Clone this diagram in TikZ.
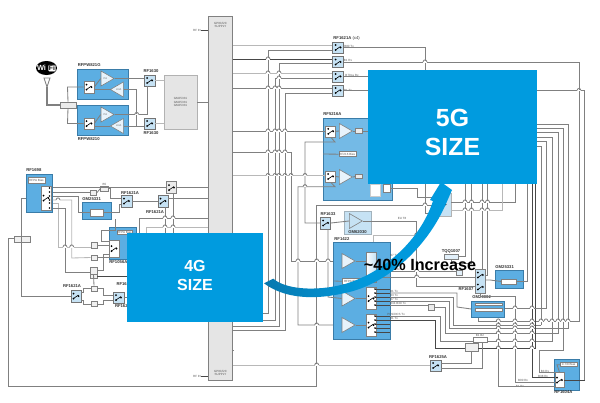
\documentclass[tikz,border=0pt]{standalone}
\usepackage{fontspec}
\setmainfont{Liberation Sans}
\usetikzlibrary{shapes.geometric}
\definecolor{sizeblue}{HTML}{009BDF}
\definecolor{swooshdark}{HTML}{0878AE}
\definecolor{blockblue}{HTML}{5CAEE2}
\definecolor{paleblue}{HTML}{C6E2F4}
\definecolor{blockedge}{HTML}{3A7CA8}
\tikzset{
  wh/.style 2 args={minimum width=#1*0.5pt,minimum height=#2*0.5pt,inner sep=0pt},
  wire/.style={draw=black!50,line width=.42pt},
  lightwire/.style={draw=black!28,line width=.42pt},
  darkwire/.style={draw=black!72,line width=.45pt},
  blockbox/.style={draw=blockedge,fill=blockblue,line width=.5pt},
  switchbox/.style={draw=black!55,fill=paleblue,line width=.3pt,wh={10.5}{11}},
  whitebox/.style={draw=black!50,fill=white,line width=.3pt},
  amp/.style={isosceles triangle,isosceles triangle stretches,draw=black!50,fill=paleblue!40,line width=.3pt,
    minimum width=7.5pt,minimum height=6.5pt,inner sep=0pt,anchor=lower side,font=\fontsize{1.3}{1.5}\selectfont,text=black!60},
  partlabel/.style={font=\bfseries\fontsize{2.1}{2.5}\selectfont,text=black!80,inner sep=0pt},
  tinylabel/.style={font=\fontsize{1.5}{1.8}\selectfont,text=black!65,inner sep=0pt,align=center},
  swmark/.pic={
    \draw[line width=.3pt,black] (-2.5,2.5) -- (2.5,-1);
    \fill (-2.5,-2.5) circle (1); \fill (-2.5,2.5) circle (1); \fill (2.5,0) circle (1);
  }
}
\newcommand{\hopat}[2]{
  \draw[white,line width=.6pt] (#1-1.8,#2) -- (#1+1.8,#2);
  \draw[wire] (#1-2,#2) .. controls (#1-1.5,#2-2.8) and (#1+1.5,#2-2.8) .. (#1+2,#2);
}
\begin{document}
\begin{tikzpicture}[x=0.5pt,y=-0.5pt]
\useasboundingbox (0,0) rectangle (600,402);
\fill[white] (0,0) rectangle (600,402);
% the bus
\node (bus) at (220.5,198) [draw=black!50,fill=black!10,line width=.45pt,wh={24}{364}] {};
\node (bustop) at (220.5,25) [tinylabel] {GPIO/I2C\\SUPPLY};
\node (busbot) at (220.5,373) [tinylabel] {GPIO/I2C\\SUPPLY};
\node (rfin) at (197,30) [tinylabel] {RF IN};
\node (rfout) at (197,376) [tinylabel] {RF IN};
\draw[darkwire] (rfin.east) -- (bus.west |- rfin);
\draw[darkwire] (rfout.east) -- (bus.west |- rfout);
% wifi part
\node (wifi) at (46.5,68) [ellipse,fill=black,wh={21}{14}] {};
\node (wifiwi) at (41.5,68.2) [font=\bfseries\fontsize{3.7}{4}\selectfont,text=white,inner sep=0pt] {Wi};
\node (wififi) at (52,68.2) [fill=white,draw=black!40,rounded corners=.5pt,line width=.2pt,font=\bfseries\fontsize{3.4}{3.8}\selectfont,inner sep=.3pt] {Fi};
\coordinate (ant) at (47,87);
\draw[wire] (44,78) -- (50,78) -- (ant) -- cycle;
\node (dipl) at (68,105) [whitebox,fill=black!8,wh={16}{6}] {};
\node (wlana) at (103,84) [blockbox,wh={51}{30}] {};
\node (wlanb) at (103,120.5) [blockbox,wh={51}{30}] {};
\node (swa) at (89,87) [whitebox,wh={10}{12}] {};
\node (swb) at (89,123.5) [whitebox,wh={10}{11}] {};
\node (ampa) at (100.7,78.5) [amp] {PA};
\node (ampb) at (123.7,89.5) [amp,shape border rotate=180] {LNA};
\node (ampc) at (100.7,114.5) [amp] {PA};
\node (ampd) at (123.7,126) [amp,shape border rotate=180] {LNA};
\node (rfa) at (149.7,80.5) [switchbox] {};
\node (rfb) at (149.7,123.5) [switchbox] {};
\node (gbox) at (180.5,102) [draw=black!30,fill=black!10,line width=.45pt,wh={33}{54}] {};
\node (gboxtext) at (180.5,102) [tinylabel] {GM25331\\GM25331\\GM25331};
\node (wlanatext) at (77.5,65) [partlabel,anchor=west] {RFPW821G};
\node (wlanbtext) at (77.5,139) [partlabel,anchor=west] {RFPW8210};
\node (rfatext) at (151,71.5) [partlabel] {RF1630};
\node (rfbtext) at (151,133) [partlabel] {RF1630};
\draw[wire,line width=.6pt] (ant) -- (47,105) -- (dipl.west);
\draw[wire] (dipl.north) -- (67.5,87) -- (swa.west);
\draw[wire] (dipl.south) -- (67.5,123.5) -- (swb.west);
\draw[wire] (swa.east) -- (ampa.lower side);
\draw[wire] (ampb.apex) -- (swa.east |- ampb.apex);
\draw[wire] (ampa.apex) -- (rfa.west |- ampa.apex);
\draw[wire] (ampb.lower side) -- (136.7,89.5) -- (136.7,126) -- (rfb.west |- ampd.lower side);
\draw[wire] (ampc.apex) -- (147.3,114.5) -- (147.3,86);
\draw[wire] (ampd.lower side) -- (rfb.west |- ampd.lower side);
\draw[wire] (swb.east) -- (ampc.lower side);
\draw[wire] (ampd.apex) -- (swb.east |- ampd.apex);
\hopat{136.7}{114.5}
\draw[lightwire] (rfa.east) -- (gbox.west |- rfa.east);
\draw[lightwire] (rfb.east) -- (gbox.west |- rfb.east);
\draw[wire] (gbox.east) -- (bus.west |- gbox.east);
% the four switches on top
\node (rfout1) at (338,47.5) [switchbox] {};
\node (rfout2) at (338,62) [switchbox] {};
\node (rfout3) at (338,76.5) [switchbox] {};
\node (rfout4) at (338,90.5) [switchbox] {};
\node (rfouttext) at (333,38) [partlabel,anchor=west] {RF1621A {\mdseries (x4)}};
\node (rxa) at (349,46) [tinylabel] {B80 Tx};
\node (rxb) at (348,60) [tinylabel] {B1 Rx};
\node (rxc) at (352,75) [tinylabel] {B70ca Rx};
\node (rxd) at (348,90) [tinylabel] {B1 Tx};
% RF5216A
\node (pab) at (357.5,159) [blockbox,fill=blockblue!85,wh={69}{82}] {};
\node (pabtext) at (323,114.5) [partlabel,anchor=west] {RF5216A};
\node (pabsw1) at (330.7,131.3) [whitebox,wh={10}{11}] {};
\node (pabsw2) at (330.7,176.5) [whitebox,wh={10}{11}] {};
\node (pabamp1) at (339,131) [amp] {};
\node (pabamp2) at (339,177) [amp] {};
\node (pabf1) at (359,131) [whitebox,fill=black!8,wh={7}{4.5}] {};
\node (pabf2) at (359,176.5) [whitebox,fill=black!8,wh={7}{4.5}] {};
\node (pabbias) at (347.3,154.2) [whitebox,wh={17}{5},tinylabel] {RF216 Bias};
\node (pabw) at (375,190) [whitebox,draw=black!20,fill=white,wh={10}{12}] {};
\node (pabf3) at (386.5,188) [whitebox,wh={7}{8}] {};
% bus lines to the right
\draw[lightwire] (bus.east |- 0,45) -- (rfout1.west |- 0,45);
\draw[darkwire] (bus.east |- 0,59) -- (rfout2.west |- 0,59);
\draw[lightwire] (bus.east |- 0,73) -- (rfout3.west |- 0,73);
\draw[wire] (bus.east |- 0,88) -- (rfout4.west |- 0,88);
\draw[wire] (rfout1.west |- 0,50) -- (268,50) -- (268,313) -- (bus.east |- 0,313);
\draw[wire] (rfout2.west |- 0,63.5) -- (279,63.5) -- (279,326) -- (bus.east |- 0,326);
\draw[wire] (rfout3.west |- 0,78) -- (275,78) -- (275,320) -- (bus.east |- 0,320);
\draw[wire] (rfout4.west |- 0,93) -- (285,93) -- (285,330.5) -- (bus.east |- 0,330.5);
\draw[wire] (bus.east |- 0,131) -- (pabsw1.west |- 0,131);
\draw[wire] (bus.east |- 0,152) -- (291,152) -- (291,261) -- (345,261);
\draw[lightwire] (bus.east |- 0,175.5) -- (pabsw2.west |- 0,175.5);
\draw[wire] (pabsw1.south) -- (335,142) -- (305,142) -- (305,223) -- (320,223);
\draw[wire] (pabsw2.south) -- (335,186.7) -- (298,186.7) -- (298,325) -- (345,325);
\draw[wire] (323,154) -- (pabbias.west);
\draw[wire] (pabsw1.east) -- (pabamp1.lower side);
\draw[wire] (pabsw2.east) -- (pabamp2.lower side);
\draw[wire] (pabamp1.apex) -- (pabf1.west);
\draw[wire] (pabamp2.apex) -- (pabf2.west);
\draw[wire] (pabf1.east) -- (368,131);
\draw[wire] (rfout1.east) -- (425,47.5) -- (425,213) -- (436,213);
\draw[wire] (rfout2.east) -- (579,62) -- (579,321) -- (478,321) -- (478,317);
\draw[wire] (rfout3.east) -- (368,76.5);
\draw[wire] (rfout4.east) -- (584.7,90.5) -- (584.7,380) -- (579.3,380);
\hopat{425}{62}
\hopat{579}{90.5}
\foreach \y in {59,73,88,131,152,175.5} { \hopat{268}{\y} }
\foreach \y in {73,78,88,131,152,175.5} { \hopat{279}{\y} }
\foreach \y in {88,131,152,175.5} { \hopat{275}{\y} }
\foreach \y in {131,152,175.5} { \hopat{285}{\y} }
\hopat{291}{175.5}
\hopat{305}{175.5}
\hopat{305}{186.7}
% RF1633 and RF1422
\node (sel) at (325.7,223) [switchbox,wh={10}{12}] {};
\node (seltext) at (328,214) [partlabel] {RF1633};
\node (gmd) at (357.3,222.3) [draw=paleblue!70!black!80,fill=paleblue,line width=.3pt,wh={27}{23}] {};
\node (gmdamp) at (349,221) [amp,fill=paleblue] {};
\node (gmdtext) at (357.5,231.7) [partlabel] {GM62030};
\node (eulabel) at (402,218) [tinylabel] {EU T8};
\node (hub) at (361.5,290.5) [blockbox,wh={57}{97}] {};
\node (hubtext) at (334,239.5) [partlabel,anchor=west] {RF1422};
\node (hubamp1) at (341.7,261) [amp] {};
\node (hubamp2) at (341.7,298.5) [amp] {};
\node (hubamp3) at (341.7,325) [amp] {};
\node (hubsw1) at (371,267.7) [whitebox,left color=white,right color=paleblue,wh={10}{30}] {};
\node (hubsw2) at (371,298.5) [whitebox,wh={10}{21.5}] {};
\node (hubsw3) at (371,325) [whitebox,wh={10}{22}] {};
\node (hubbias) at (351.3,281.3) [whitebox,wh={18.5}{6},tinylabel] {RFPA Bias};
\draw[wire] (sel.east) -- (gmdamp.lower side);
\draw[wire] (gmdamp.apex) -- (416.7,221) -- (416.7,286) -- (475,286);
\draw[wire] (sel.south) ++(2.3,0) -- (328,297) -- (hubamp2.lower side);
\draw[lightwire] (373,242.3) -- (373,235) -- (416.7,235);
\draw[wire] (hubamp1.apex) -- (hubsw1.west |- hubamp1.apex);
\draw[wire] (hubamp2.apex) -- (hubsw2.west |- hubamp2.apex);
\draw[wire] (hubamp3.apex) -- (hubsw3.west |- hubamp3.apex);
\draw[wire] (334,281) -- (hubbias.west);
\foreach \y in {289,293,297,301,305,316,320,324,328,332} {
  \draw[darkwire] (375,\y) -- (390,\y);
  \fill (375,\y) circle (.9);
}
\node (lbla) at (394,255) [tinylabel] {B7 Tx};
\node (lblb) at (394,260) [tinylabel] {B7 Rx};
\node (lblc) at (395,269.5) [tinylabel] {B40 Rx};
\node (lbld) at (394,291) [tinylabel] {B1 Tx};
\node (lble) at (394,295.3) [tinylabel] {B3 Tx};
\node (lblf) at (394,299.7) [tinylabel] {B7 Tx};
\node (lblg) at (398,303.5) [tinylabel] {B34 B39 Tx};
\node (lblh) at (396,314.3) [tinylabel] {PCS/DCS Tx};
\node (lbli) at (394,318.6) [tinylabel] {B1 Tx};
% the long lines
\draw[wire] (14,238.7) -- (8,238.7) -- (8,386) -- (316.7,386) -- (316.7,205) -- (435,205);
\node (coup) at (22,239) [whitebox,fill=black!6,wh={16}{6}] {};
\node (rftune) at (435.7,365.5) [switchbox] {};
\node (rftunetext) at (438,357) [partlabel] {RF1625A};
\draw[lightwire] (bus.east |- 0,365) -- (rftune.west |- 0,365);
\draw[wire] (bus.east |- 0,350) -- (233,350);
\foreach \y in {261,325,365} { \hopat{316.7}{\y} }
\hopat{298}{261}
\hopat{328}{261}
% the right part
\node (sel2) at (443,204.3) [draw=black!30,fill=paleblue,line width=.3pt,wh={16}{23}] {};
\node (tqq) at (451,256.5) [whitebox,fill=paleblue!50,wh={14}{5.3}] {};
\node (tqqtext) at (451,251) [partlabel] {TQQ1007};
\node (tqqb) at (459.3,273) [whitebox,fill=paleblue!50,wh={5.5}{4.5}] {};
\node (rfsw) at (480.3,281) [draw=black!50,fill=paleblue,line width=.3pt,wh={10.7}{23.7}] {};
\node (rfswtext) at (466,289) [partlabel] {RF1607};
\node (gma) at (509,279) [blockbox,wh={28}{18}] {};
\node (gmatext) at (495,267) [partlabel,anchor=west] {GM25331};
\node (gmasub) at (509,281.5) [whitebox,wh={15}{5}] {};
\node (gmb) at (488.3,309) [blockbox,wh={33.3}{16}] {};
\node (gmbtext) at (472,297.5) [partlabel,anchor=west] {GM20002};
\node (gmbsub) at (488.7,309.8) [whitebox,wh={27.3}{3.8}] {};
\node (gmbtop) at (488.7,304.5) [whitebox,wh={27}{2.5}] {};
\node (fca) at (431,307) [whitebox,fill=black!8,wh={6}{6}] {};
\node (fcb) at (480,339.8) [whitebox,wh={14}{5.7}] {};
\node (fcbtext) at (480,335) [tinylabel] {B1 B2};
\node (fcc) at (471.5,347) [whitebox,fill=black!6,wh={13}{7.7}] {};
\node (blk) at (566.7,374.7) [blockbox,wh={25.3}{30.7}] {};
\node (blktext) at (554,392.5) [partlabel,anchor=west] {RF1604A};
\node (blkbias) at (568.7,364.7) [whitebox,wh={17.3}{4},tinylabel] {0-7/8 Bias};
\node (blksw) at (559.5,380) [whitebox,wh={9}{14.7}] {};
\node (blkrx1) at (523,380) [tinylabel] {B00 Rx};
\node (blkrx2) at (520,386.5) [tinylabel] {B1 Rx};
\node (blkrx3) at (545,371) [tinylabel] {B3 Rx};
\node (blkrx4) at (543,376) [tinylabel] {B38 Rx};
\draw[wire] (sel2.east |- 0,202) -- (515,202) -- (515,184);
\draw[lightwire] (sel2.east |- 0,210) -- (502,210) -- (502,184);
\draw[wire] (390,188) -- (417,188) -- (417,197) -- (sel2.west |- 0,197);
\draw[wire] (465,184) -- (465,256.5) -- (tqq.east);
\draw[wire] (471.5,184) -- (471.5,263) -- (451,263) -- (tqq.south);
\draw[wire] (482,184) -- (rfsw.north -| 482,0);
\draw[wire] (487.5,184) -- (487.5,275) -- (rfsw.east |- 0,275);
\draw[wire] (hubsw1.east |- 0,271) -- (tqqb.west |- 0,271);
\draw[wire] (hubsw1.east |- 0,277) -- (rfsw.west |- 0,277);
\draw[wire] (rfsw.east |- 0,280) -- (490,280) -- (gmasub.west);
\draw[wire] (gmasub.east) -- (527,281.5) -- (527,184);
\draw[wire] (rfsw.south) -- (480.3,296) -- (515,296) -- (515,382) -- (blksw.west |- 0,382);
\draw[darkwire] (532,184) -- (532,377) -- (blksw.west |- 0,377);
\draw[wire] (498.3,321) -- (498.3,386) -- (blksw.west |- 0,386);
\draw[wire] (390,293) -- (457,293) -- (457,307) -- (gmb.west);
\draw[wire] (390,297) -- (453,297) -- (453,325) -- (541,325);
\draw[wire] (390,301) -- (449,301) -- (449,328) -- (568,328) -- (568,124) -- (537,124);
\draw[wire] (390,305) -- (fca.west |- 0,305);
\draw[wire] (fca.east) -- (445,307) -- (445,333) -- (558,333) -- (558,132.7) -- (537,132.7);
\draw[wire] (390,316) -- (440,316) -- (440,341) -- (fcb.west |- 0,341);
\draw[wire] (fcb.east |- 0,341) -- (552,341) -- (552,137) -- (537,137);
\draw[darkwire] (390,320) -- (435.7,320) -- (435.7,348) -- (fcc.west |- 0,348);
\draw[darkwire] (fcc.east |- 0,348) -- (535,348) -- (535,184);
\draw[wire] (541,325) -- (541,146) -- (537,146);
\draw[wire] (gmb.east |- 0,308) -- (546,308) -- (546,141.7) -- (537,141.7);
\draw[wire] (563,128) -- (537,128);
\draw[wire] (563,128) -- (563,350) -- (539,350) -- (539,372) -- (blksw.west |- 0,372);
\draw[wire] (rftune.east |- 0,363) -- (471.7,363) -- (471.7,350.8);
\draw[wire] (rftune.east |- 0,368) -- (482.7,368) -- (482.7,342.7);
\foreach \x in {465,471.5,482,487.5} { \hopat{\x}{202} \hopat{\x}{210} }
\hopat{425}{205}
\foreach \y in {235,271,277} { \hopat{416.7}{\y} }
\foreach \x in {498.3,515,532} {
  \foreach \y in {321,325,328,333,341,348} { \hopat{\x}{\y} }
}
\foreach \x in {515,532} { \hopat{\x}{308} }
\foreach \x in {541,546,552,558,563,568} { \hopat{\x}{321} }
\draw[darkwire] (blksw.east |- 0,380) -- (584.7,380);
\draw[wire] (blkbias.west) -- (557,364.7) -- (blksw.north);
% left lower part
\node (mod) at (39,193) [blockbox,wh={26}{38}] {};
\node (modtext) at (26,170) [partlabel,anchor=west] {RF1698};
\node (modlab) at (36.5,180.2) [whitebox,wh={17}{6.5},tinylabel] {RFPA Bias};
\node (modsw) at (46,198) [whitebox,wh={10}{24}] {};
\foreach \y in {188,192,196,200,203,208} { \fill (49.5,\y) circle (.9); }
\node (fltb) at (104.5,188.5) [whitebox,fill=black!6,wh={7.6}{5}] {};
\node (fltc) at (93.4,192.5) [whitebox,fill=black!6,wh={6.7}{5}] {};
\node (fltbtext) at (104.5,184) [tinylabel] {B5};
\node (sw4g) at (171.5,187.5) [whitebox,fill=black!8,wh={10}{11.5}] {};
\node (gmc) at (96.5,210.5) [blockbox,wh={29}{17}] {};
\node (gmctext) at (82,199) [partlabel,anchor=west] {GM25331};
\node (gmcsub) at (97,212.7) [whitebox,wh={12.6}{6.7}] {};
\node (swl1) at (126.5,201) [switchbox,wh={11}{12}] {};
\node (swl1text) at (130,193) [partlabel] {RF1621A};
\node (swl2) at (163,201) [switchbox,wh={10}{12}] {};
\node (swl2text) at (155,212) [partlabel] {RF1621A};
\node (lmux) at (122.5,243) [blockbox,wh={27}{32}] {};
\node (lmuxtext) at (109,262) [partlabel,anchor=west] {RF1056A};
\node (lmuxlab) at (124.5,232) [whitebox,wh={15}{4},tinylabel] {RFPA Bias};
\node (lmuxsw) at (114,248.5) [whitebox,wh={10}{17}] {};
\node (flt1) at (94,245) [whitebox,fill=black!6,wh={6}{6}] {};
\node (flt2) at (94,257.5) [whitebox,fill=black!6,wh={6}{5}] {};
\node (flt3) at (93.5,270.5) [whitebox,fill=black!6,wh={7}{7}] {};
\node (flt4) at (93.5,276) [whitebox,fill=black!6,wh={7}{4}] {};
\node (flt5) at (94,288.5) [whitebox,fill=black!6,wh={6}{5}] {};
\node (flt6) at (94,304) [whitebox,fill=black!6,wh={6}{4.5}] {};
\node (swl3) at (76,296) [switchbox,wh={10}{12}] {};
\node (swl3text) at (72,286) [partlabel] {RF1621A};
\node (swl4) at (118.5,297.5) [switchbox,wh={11}{11}] {};
\node (swl4text) at (124,306.5) [partlabel] {RF1621A};
\node (swl4up) at (125.5,284) [partlabel] {RF1621A};
\draw[wire] (mod.east |- 0,187.5) -- (sw4g.west);
\draw[wire] (mod.east |- 0,192.5) -- (fltc.west);
\draw[wire] (fltc.east) -- (fltb.west);
\draw[wire] (fltb.east) -- (110,188.5) -- (110,198) -- (swl1.west |- 0,198);
\draw[wire] (mod.east |- 0,196) -- (78,196) -- (78,212.7) -- (gmcsub.west);
\draw[wire] (gmcsub.east) -- (119,212.7) -- (119,204) -- (swl1.west |- 0,204);
\draw[wire] (swl1.east) -- (swl2.west);
\draw[wire] (swl2.east |- 0,198) -- (bus.west |- 0,198);
\draw[wire] (sw4g.east) -- (bus.west |- sw4g);
\draw[wire] (115,219) -- (115,230) -- (101.7,230) -- (101.7,241.7) -- (lmuxsw.west |- 0,241.7);
\draw[lightwire] (mod.east |- 0,203) -- (58,203) -- (58,247) -- (flt1.west |- 0,247);
\draw[lightwire] (mod.east |- 0,200) -- (71.7,200) -- (71.7,258) -- (flt2.west);
\draw[wire] (mod.east |- 0,208) -- (65,208) -- (65,272) -- (flt3.west |- 0,272);
\hopat{58}{200}
\foreach \x in {65,71.7} { \hopat{\x}{247} }
\draw[wire] (flt1.east) -- (lmuxsw.west |- flt1);
\draw[wire] (flt2.east) -- (lmuxsw.west |- flt2);
\draw[wire] (flt3.east) -- (103,270.5) -- (103,254) -- (lmuxsw.west |- 0,254);
\draw[darkwire] (flt4.east) -- (127,276);
\draw[wire] (mod.west |- 0,198) -- (21.7,198) -- (21.7,296) -- (swl3.west);
\draw[wire] (swl3.east |- 0,292) -- (83,292) -- (83,288.5) -- (flt5.west);
\draw[wire] (swl3.east |- 0,300) -- (83,300) -- (83,304) -- (flt6.west);
\draw[wire] (flt5.east) -- (103,288.5) -- (103,295) -- (swl4.west |- 0,295);
\draw[wire] (flt6.east) -- (103,304) -- (103,300) -- (swl4.west |- 0,300);
\draw[wire] (swl4.east) -- (127,297.5);
\draw[wire] (flt3.south) -- (flt5.north);
\draw[wire] (bus.west |- 0,218) -- (139,218) -- (139,233);
\draw[lightwire] (bus.west |- 0,227) -- (146,227) -- (146,233);
\draw[wire] (165,207) -- (165,233);
\draw[wire] (173,193.3) -- (173,233);
\foreach \x in {165,173} { \hopat{\x}{218} \hopat{\x}{227} }
% switch marks
\foreach \n in {rfa,rfb,swa,swb,rfout1,rfout2,rfout3,rfout4,pabsw1,pabsw2,sel,sel2,rftune,swl1,swl2,swl3,swl4,sw4g,lmuxsw,modsw,blksw,hubsw2,hubsw3} {
  \pic at (\n) {swmark};
}
\pic at (480.3,275) {swmark};
\pic at (480.3,287) {swmark};
% the swoosh
\path[left color=swooshdark,right color=sizeblue,middle color=sizeblue!90!swooshdark]
  (273.3,278.7) .. controls (285,289) and (315,292) .. (345,284) .. controls (385,272) and (420,240) .. (433,201)
  -- (430,200) -- (441,182) -- (452,190) -- (445,206) .. controls (425,250) and (385,285) .. (345,293)
  .. controls (315,300) and (285,299) .. (264,283.3) -- cycle;
% the two size boxes
\node (box4g) at (195,277.5) [fill=sizeblue,wh={136}{89}] {};
\node (box5g) at (452.5,127) [fill=sizeblue,wh={169}{114}] {};
\node (txt4g) at (195,275.5) [text=white,font=\bfseries\fontsize{8}{9.6}\selectfont,align=center,inner sep=0pt] {4G\\SIZE};
\node (txt5g) at (452.5,132.5) [text=white,font=\bfseries\fontsize{12.4}{14.4}\selectfont,align=center,inner sep=0pt] {5G\\SIZE};
\node (txtinc) at (420,265) [font=\bfseries\fontsize{8.1}{9.6}\selectfont,inner sep=0pt] {\textasciitilde40\% Increase};
\end{tikzpicture}
\end{document}
